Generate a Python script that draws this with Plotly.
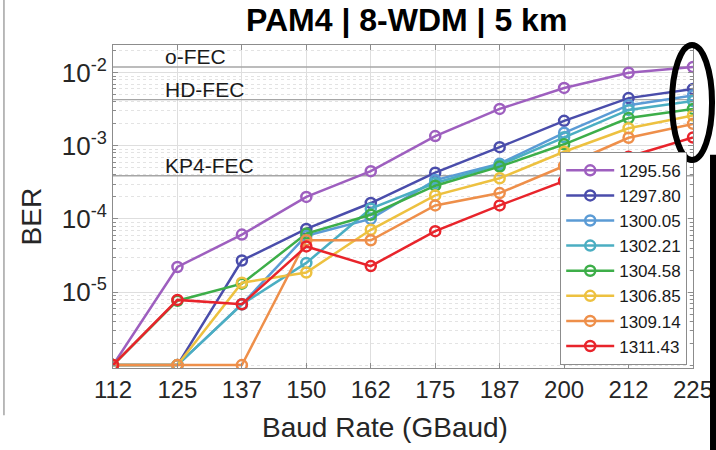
import math
import plotly.graph_objects as go

# baud rates (GBaud) and the tick labels as printed
baud = [112.5, 125, 137.5, 150, 162.5, 175, 187.5, 200, 212.5, 225]
baud_labels = ['112', '125', '137', '150', '162', '175', '187', '200', '212', '225']

# wavelengths (nm) of the 8 WDM lanes
lanes = ['1295.56', '1297.80', '1300.05', '1302.21', '1304.58', '1306.85', '1309.14', '1311.43']

# BER per lane (error-free points sit on the 1e-6 floor)
ber_129556 = [1e-6, 2.2e-5, 6.1e-5, 2.0e-4, 4.5e-4, 1.36e-3, 3.2e-3, 6.2e-3, 1.0e-2, 1.2e-2]
ber_129780 = [1e-6, 1e-6, 2.7e-5, 7.3e-5, 1.65e-4, 4.3e-4, 9.6e-4, 2.2e-3, 4.5e-3, 6.0e-3]
ber_130005 = [1e-6, 1e-6, 6.8e-6, 5.9e-5, 1.0e-4, 3.4e-4, 5.7e-4, 1.51e-3, 3.6e-3, 4.9e-3]
ber_130221 = [1e-6, 1e-6, 6.8e-6, 2.5e-5, 1.38e-4, 3.1e-4, 5.5e-4, 1.31e-3, 3.1e-3, 4.1e-3]
ber_130458 = [1e-6, 7.6e-6, 1.3e-5, 6.3e-5, 1.14e-4, 2.85e-4, 5.2e-4, 1.05e-3, 2.4e-3, 3.2e-3]
ber_130685 = [1e-6, 1e-6, 1.34e-5, 1.85e-5, 7.1e-5, 2.1e-4, 3.6e-4, 8.3e-4, 1.74e-3, 2.6e-3]
ber_130914 = [1e-6, 1e-6, 1e-6, 5.1e-5, 5.1e-5, 1.53e-4, 2.26e-4, 5.3e-4, 1.29e-3, 2.0e-3]
ber_131143 = [1e-6, 7.8e-6, 6.8e-6, 4.2e-5, 2.26e-5, 6.8e-5, 1.53e-4, 3.3e-4, 7.1e-4, 1.3e-3]

ber_all = [ber_129556, ber_129780, ber_130005, ber_130221,
           ber_130458, ber_130685, ber_130914, ber_131143]

# FEC thresholds
fec_names = ['o-FEC', 'HD-FEC', 'KP4-FEC']
fec_values = [1.2e-2, 4.3e-3, 3.9e-4]

# y tick labels
y_ticks = [1e-5, 1e-4, 1e-3, 1e-2]
y_tick_text = ['10<sup>-5</sup>', '10<sup>-4</sup>', '10<sup>-3</sup>', '10<sup>-2</sup>']

colors = ['#9E5FBF', '#4A4DAB', '#5B9BD5', '#4BAEC2',
          '#3DAE49', '#EDC140', '#EE8F4A', '#E8242B']

FONT = 'Liberation Sans, Arial, sans-serif'
TXT = '#262626'

fig = go.Figure()

# FEC threshold lines
for name, val in zip(fec_names, fec_values):
    fig.add_trace(go.Scatter(x=[baud[0], baud[-1]], y=[val, val], mode='lines',
                             line=dict(color='#a6a6a6', width=1.3),
                             showlegend=False, hoverinfo='skip'))

for lane, ber, c in zip(lanes, ber_all, colors):
    fig.add_trace(go.Scatter(x=baud, y=ber, mode='lines+markers', name=lane,
                             line=dict(color=c, width=2.5),
                             marker=dict(symbol='circle-open', size=10, color=c,
                                         line=dict(width=2.5, color=c))))

annotations = []
for name, val in zip(fec_names, fec_values):
    # annotations on a log axis take log10 positions
    annotations.append(dict(xref='paper', x=0.086, y=math.log10(val), yref='y',
                            xanchor='left', yanchor='bottom', yshift=-3,
                            text=name, showarrow=False,
                            font=dict(family=FONT, size=21, color='#1a1a1a')))

# axis titles
annotations.append(dict(xref='paper', yref='paper', x=-0.141, y=0.47,
                        text='BER', textangle=-90, showarrow=False,
                        xanchor='center', yanchor='middle',
                        font=dict(family=FONT, size=28, color=TXT)))
annotations.append(dict(xref='paper', yref='paper', x=0.469, y=-0.185,
                        text='Baud Rate (GBaud)', showarrow=False,
                        xanchor='center', yanchor='middle',
                        font=dict(family=FONT, size=28, color=TXT)))

shapes = [
    # marker ellipse drawn over the figure
    dict(type='circle', xref='paper', yref='paper', x0=0.9638, x1=1.0328,
         y0=0.644, y1=1.0, line=dict(color='black', width=6)),
    dict(type='line', xref='paper', yref='paper', x0=1.0345, x1=1.0345,
         y0=0.66, y1=-0.26, line=dict(color='black', width=6)),
    # edge of neighbouring panel
    dict(type='line', xref='paper', yref='paper', x0=-0.188, x1=-0.188,
         y0=1.2, y1=-0.146, line=dict(color='#8c8c8c', width=1.2)),
]

fig.update_layout(
    width=716, height=450,
    margin=dict(l=113, r=23, t=45, b=82),
    paper_bgcolor='white', plot_bgcolor='white',
    font=dict(family=FONT, color=TXT),
    title=dict(text='<b>PAM4 | 8-WDM | 5 km</b>', x=0.568, xref='container',
               xanchor='center', y=0.955, yanchor='middle',
               font=dict(family=FONT, size=32, color='black')),
    legend=dict(x=0.99, y=0.01, xanchor='right', yanchor='bottom',
                bgcolor='white', bordercolor='#8c8c8c', borderwidth=1,
                font=dict(family=FONT, size=17, color='#1a1a1a'),
                itemwidth=48, tracegroupgap=0),
    annotations=annotations,
    shapes=shapes,
)

fig.update_xaxes(range=[112.5, 225], tickvals=baud, ticktext=baud_labels,
                 automargin=False,
                 showgrid=True, gridcolor='#dedede', gridwidth=1,
                 ticks='inside', ticklen=5, tickcolor='#8c8c8c',
                 showline=True, linecolor='#8c8c8c', linewidth=1, mirror='ticks',
                 tickfont=dict(family=FONT, size=24, color=TXT), zeroline=False)

fig.update_yaxes(type='log', range=[-6.04, -1.62], tickvals=y_ticks,
                 ticktext=y_tick_text, automargin=False,
                 showgrid=True, gridcolor='#dedede', gridwidth=1,
                 ticks='inside', ticklen=5, tickcolor='#8c8c8c',
                 showline=True, linecolor='#8c8c8c', linewidth=1, mirror='ticks',
                 tickfont=dict(family=FONT, size=26, color=TXT),
                 minor=dict(dtick='D1', ticks='inside', ticklen=3, tickcolor='#8c8c8c',
                            showgrid=True, gridcolor='#e3e3e3', griddash='dot'))

# drop the browser's default page margin so the figure sits at the corner
fig.write_html('out.html', config={'displayModeBar': False},
               post_script="document.body.style.margin='0px';")
